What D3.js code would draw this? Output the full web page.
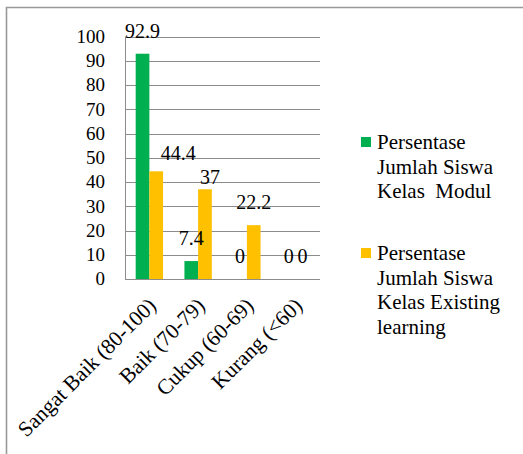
<!DOCTYPE html>
<html><head><meta charset="utf-8">
<script src="https://cdn.jsdelivr.net/npm/d3@7"></script>
<style>body{margin:0;background:#fff}svg{display:block}</style>
</head><body><svg id="c" width="523" height="454"></svg>
<script>
const categories = ["Sangat Baik (80-100)", "Baik (70-79)", "Cukup (60-69)", "Kurang (<60)"];
const seriesNames = ["Persentase Jumlah Siswa Kelas  Modul", "Persentase Jumlah Siswa Kelas Existing learning"];
const modulValues = [92.9, 7.4, 0, 0];
const existingValues = [44.4, 37, 22.2, 0];
const yTicks = [0, 10, 20, 30, 40, 50, 60, 70, 80, 90, 100];
const legendLines = [["Persentase", "Jumlah Siswa", "Kelas  Modul"], ["Persentase", "Jumlah Siswa", "Kelas Existing", "learning"]];
// label nudges (layout only)
const labelNudge = {"1-0": [22, 5], "1-1": [5, 11]};

const FONT = "Liberation Serif";
const colors = ["#00B050", "#FFC000"];
const svg = d3.select("#c");
svg.append("path").attr("d", "M6.5,460V7.5H530").attr("fill", "none").attr("stroke", "#999").attr("stroke-width", 1.6);

const L = 125, R = 320, T = 36.5, B = 279;
const x0 = d3.scaleBand().domain(categories).range([L, R]).padding(0);
const x1 = d3.scaleBand().domain([0, 1]).range([0, x0.bandwidth()]).paddingInner(0).paddingOuter(0.78);
const y = d3.scaleLinear().domain([0, 100]).range([B, T]);

const g = svg.append("g");
g.selectAll("line.grid").data(yTicks).join("line").attr("class", "grid")
  .attr("x1", L).attr("x2", R).attr("y1", d => Math.round(y(d)) + 0.5).attr("y2", d => Math.round(y(d)) + 0.5)
  .attr("stroke", "#8c8c8c").attr("stroke-width", 1);
g.append("line").attr("x1", L + 0.5).attr("x2", L + 0.5).attr("y1", y(100)).attr("y2", B).attr("stroke", "#8c8c8c");

g.selectAll("text.yt").data(yTicks).join("text").attr("class", "yt")
  .attr("x", 105).attr("y", d => y(d)).attr("dy", "0.34em").attr("text-anchor", "end")
  .attr("font-family", FONT).attr("font-size", 19).text(d => d);

const series = [modulValues, existingValues];
series.forEach((vals, s) => {
  g.selectAll("rect.s" + s).data(vals).join("rect").attr("class", "s" + s)
    .attr("x", (d, i) => x0(categories[i]) + x1(s)).attr("width", x1.bandwidth())
    .attr("y", d => y(d)).attr("height", d => B - y(d)).attr("fill", colors[s]);
});
series.forEach((vals, s) => {
  g.selectAll("text.l" + s).data(vals).join("text").attr("class", "l" + s)
    .attr("x", (d, i) => x0(categories[i]) + x1(s) + x1.bandwidth() / 2 + ((labelNudge[s + "-" + i] || [0, 0])[0]))
    .attr("y", (d, i) => y(d) - 16 + ((labelNudge[s + "-" + i] || [0, 0])[1]))
    .attr("text-anchor", "middle").attr("font-family", FONT).attr("font-size", 20).text(d => d);
});

g.selectAll("text.xt").data(categories).join("text").attr("class", "xt")
  .attr("transform", d => `translate(${x0(d) + x0.bandwidth() / 2 + 8},${B + 28}) rotate(-45)`)
  .attr("text-anchor", "end").attr("font-family", FONT).attr("font-size", 21.5).text(d => d);

const legY = [149, 260];
legendLines.forEach((lines, s) => {
  svg.append("rect").attr("x", 361).attr("y", legY[s] - 12).attr("width", 10).attr("height", 10).attr("fill", colors[s]);
  const t = svg.append("text").attr("x", 377).attr("y", legY[s]).attr("font-family", FONT).attr("font-size", 21).style("white-space", "pre");
  lines.forEach((ln, k) => t.append("tspan").attr("x", 377).attr("y", legY[s] + k * 24.5).text(ln));
});
</script></body></html>
